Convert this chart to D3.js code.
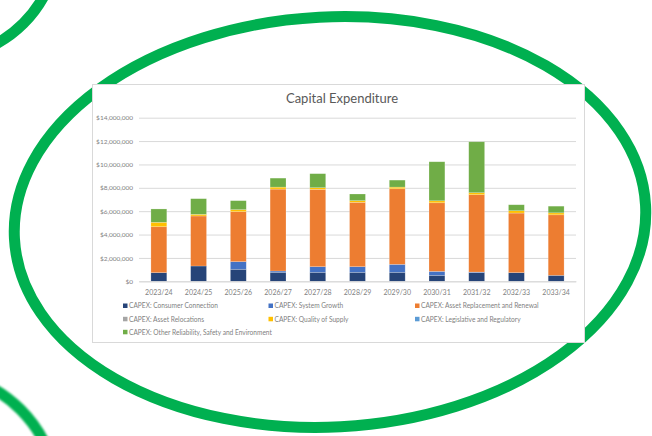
<!DOCTYPE html>
<html>
<head>
<meta charset="utf-8">
<script src="https://cdn.jsdelivr.net/npm/d3@7"></script>
<style>
  html, body { margin: 0; padding: 0; background: #fff; }
  svg { display: block; }
</style>
</head>
<body>
<svg id="chart" width="652" height="436"></svg>
<script>
// Financial years
const years = ["2023/24", "2024/25", "2025/26", "2026/27", "2027/28", "2028/29",
               "2029/30", "2030/31", "2031/32", "2032/33", "2033/34"];

// CAPEX by category, dollars
const consumerConnection = [740000, 1310000, 1030000, 770000, 770000, 770000, 770000, 510000, 740000, 740000, 510000];
const systemGrowth       = [0, 0, 650000, 110000, 480000, 480000, 680000, 340000, 50000, 0, 0];
const assetReplacement   = [3930000, 4280000, 4280000, 7010000, 6620000, 5510000, 6470000, 5870000, 6620000, 5100000, 5180000];
const assetRelocations   = [0, 0, 0, 0, 0, 0, 0, 0, 0, 0, 0];
const qualityOfSupply    = [380000, 140000, 170000, 170000, 140000, 140000, 140000, 170000, 170000, 200000, 170000];
const legislative        = [0, 0, 0, 0, 0, 0, 0, 0, 0, 0, 0];
const otherReliability   = [1140000, 1340000, 770000, 770000, 1200000, 570000, 600000, 3340000, 4360000, 510000, 570000];

const seriesNames = [
  "CAPEX: Consumer Connection",
  "CAPEX: System Growth",
  "CAPEX: Asset Replacement and Renewal",
  "CAPEX: Asset Relocations",
  "CAPEX: Quality of Supply",
  "CAPEX: Legislative and Regulatory",
  "CAPEX: Other Reliability, Safety and Environment"
];
const seriesValues = [consumerConnection, systemGrowth, assetReplacement, assetRelocations,
                      qualityOfSupply, legislative, otherReliability];
const seriesColors = ["#264478", "#4472C4", "#ED7D31", "#A5A5A5", "#FFC000", "#5B9BD5", "#70AD47"];

const yTicks = [0, 2000000, 4000000, 6000000, 8000000, 10000000, 12000000, 14000000];

const svg = d3.select("#chart");
const font = "Lato, 'Open Sans', 'DejaVu Sans', sans-serif";
const green = "#00B050";

// Decorative green rings
svg.append("ellipse")
  .attr("cx", 330).attr("cy", 222).attr("rx", 316).attr("ry", 205)
  .attr("transform", "rotate(-3 330 222)")
  .attr("fill", "none").attr("stroke", green).attr("stroke-width", 11);

svg.append("circle")
  .attr("cx", -60).attr("cy", -60).attr("r", 118)
  .attr("fill", "none").attr("stroke", green).attr("stroke-width", 11);

svg.append("circle")
  .attr("cx", -70).attr("cy", 500).attr("r", 128)
  .attr("fill", "none").attr("stroke", green).attr("stroke-width", 11)
  .style("filter", "blur(0.8px)");

// Chart frame
svg.append("rect")
  .attr("x", 92.5).attr("y", 84.5).attr("width", 492).attr("height", 258)
  .attr("fill", "#fff").attr("stroke", "#d9d9d9").attr("stroke-width", 1);

// Title
svg.append("text")
  .attr("x", 342).attr("y", 102.5)
  .attr("text-anchor", "middle")
  .attr("font-family", font).attr("font-size", 13)
  .attr("fill", "#595959")
  .text("Capital Expenditure");

// Scales
const x = d3.scaleBand().domain(years).range([139, 576]).paddingInner(0.6).paddingOuter(0.3);
const y = d3.scaleLinear().domain([0, 14000000]).range([281.3, 117.7]);

// Gridlines and y labels
const yAxis = d3.axisLeft(y).tickValues(yTicks)
  .tickSize(-(576 - 139))
  .tickFormat(d => "$" + d3.format(",")(d));
const gy = svg.append("g").attr("transform", "translate(139,0)").call(yAxis);
gy.select(".domain").remove();
gy.selectAll(".tick line").attr("stroke", "#d9d9d9").attr("stroke-width", 1);
gy.selectAll(".tick text")
  .attr("x", -6)
  .attr("font-family", font).attr("font-size", 6.5)
  .attr("fill", "#7f7f7f");

// Stacked bars
const table = years.map((yr, i) => {
  const row = { year: yr };
  seriesNames.forEach((name, s) => { row[name] = seriesValues[s][i]; });
  return row;
});
const stack = d3.stack().keys(seriesNames)(table);

svg.append("g").selectAll("g")
  .data(stack)
  .join("g")
  .attr("fill", (d, i) => seriesColors[i])
  .selectAll("rect")
  .data(d => d)
  .join("rect")
  .attr("x", d => x(d.data.year))
  .attr("y", d => y(d[1]))
  .attr("width", x.bandwidth())
  .attr("height", d => Math.max(0, y(d[0]) - y(d[1])))
  .attr("stroke", "rgba(255,255,255,0.35)")
  .attr("stroke-width", 0.6);

// X axis labels
const xAxis = d3.axisBottom(x).tickSize(0);
const gx = svg.append("g").attr("transform", "translate(0,281.3)").call(xAxis);
gx.select(".domain").attr("stroke", "#d9d9d9");
gx.selectAll(".tick text")
  .attr("dy", 11)
  .attr("font-family", font).attr("font-size", 7)
  .attr("fill", "#7f7f7f");

// Legend
const legendCols = [123, 268.5, 415];
const legendRows = [306, 319.3, 332.3];
const legend = svg.append("g");
seriesNames.forEach((name, i) => {
  const cx = legendCols[i % 3];
  const cy = legendRows[Math.floor(i / 3)];
  legend.append("rect")
    .attr("x", cx).attr("y", cy - 2.5).attr("width", 4.5).attr("height", 4.5)
    .attr("fill", seriesColors[i]);
  legend.append("text")
    .attr("x", cx + 6).attr("y", cy + 2.2)
    .attr("font-family", font).attr("font-size", 6.6)
    .attr("fill", "#7f7f7f")
    .text(name);
});
</script>
</body>
</html>
